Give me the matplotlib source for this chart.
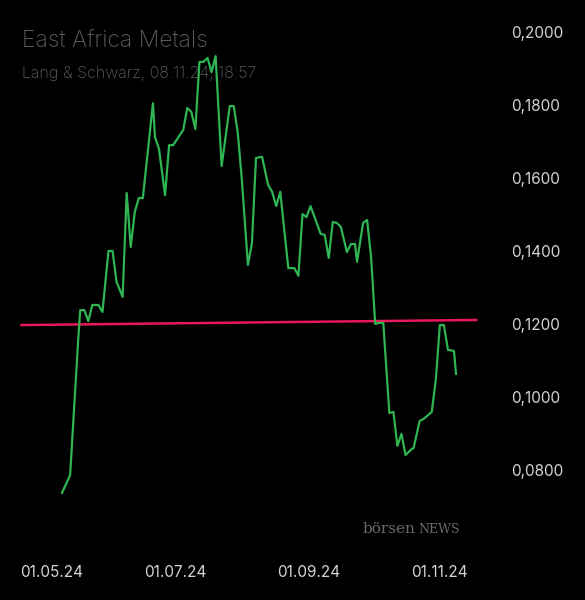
import matplotlib.pyplot as plt

plt.rcParams['font.family'] = ['Inter', 'DejaVu Sans']

# days since 01.05.24 and price in EUR
days = [5, 9, 13, 14, 16, 18, 20, 23, 25, 28, 30, 32, 35, 37, 39, 41, 43, 45,
        50, 51, 53, 56, 58, 60, 65, 67, 69, 71, 73, 75, 77, 79, 81, 84, 88, 90,
        92, 94, 97, 99, 101, 104, 107, 109, 111, 113, 117, 120, 122, 124, 126,
        128, 133, 135, 137, 139, 141, 143, 146, 148, 150, 151, 154, 156, 158,
        160, 162, 164, 167, 169, 171, 173, 175, 178, 179, 182, 184, 188, 190,
        192, 194, 196, 199, 200]
prices = [0.0737, 0.0786, 0.1156, 0.1238, 0.1238, 0.1208, 0.1252, 0.1252, 0.1233,
          0.1400, 0.1400, 0.1315, 0.1274, 0.1559, 0.1411, 0.1507, 0.1545, 0.1545,
          0.1805, 0.1712, 0.1679, 0.1553, 0.1690, 0.1690, 0.1732, 0.1792, 0.1781,
          0.1734, 0.1918, 0.1918, 0.1929, 0.1890, 0.1934, 0.1633, 0.1797, 0.1797,
          0.1723, 0.1595, 0.1362, 0.1422, 0.1655, 0.1658, 0.1581, 0.1562, 0.1523,
          0.1562, 0.1353, 0.1353, 0.1332, 0.1501, 0.1493, 0.1523, 0.1447, 0.1444,
          0.1381, 0.1479, 0.1477, 0.1466, 0.1397, 0.1419, 0.1419, 0.1370, 0.1477,
          0.1485, 0.1381, 0.1200, 0.1203, 0.1203, 0.0956, 0.0959, 0.0866, 0.0899,
          0.0841, 0.0857, 0.0860, 0.0934, 0.0940, 0.0959, 0.1047, 0.1197, 0.1197,
          0.1129, 0.1126, 0.1063]

trend_days = [-15, 210]
trend_vals = [0.1197, 0.1211]

tick_days = [0, 61, 127, 192]
tick_labels = ['01.05.24', '01.07.24', '01.09.24', '01.11.24']
ytick_vals = [0.08, 0.10, 0.12, 0.14, 0.16, 0.18, 0.20]

fig = plt.figure(figsize=(5.85, 6), dpi=100, facecolor='black')

fig.text(0.038, 0.93, 'East Africa Metals', color='#5c5c65', fontsize=16.5, va='center',
         fontweight='light')
fig.text(0.038, 0.877, 'Lang & Schwarz, 08.11.24, 18:57', color='#5c5c65', fontsize=11.5,
         va='center', fontweight='light')

ax = fig.add_axes([0.0, 0.1, 0.86, 0.8667])
ax.patch.set_alpha(0)

ax.plot(trend_days, trend_vals, color='#e8185a', lw=1.8)
ax.plot(days, prices, color='#2fb552', lw=1.6)

ax.set_xlim(-25.7, 223.3)
ax.set_ylim(0.0608, 0.2033)
for s in ax.spines.values():
    s.set_visible(False)

ax.yaxis.tick_right()
ax.set_yticks(ytick_vals)
ax.set_yticklabels([f'{v:.4f}'.replace('.', ',') for v in ytick_vals])
ax.set_xticks(tick_days)
ax.set_xticklabels(tick_labels)
ax.tick_params(length=0, colors='#d4d4d4', labelsize=11)
ax.tick_params(axis='y', pad=6)
ax.tick_params(axis='x', pad=18)

fig.text(0.62, 0.118, 'börsen', color='#6a6a6a', fontsize=11, family='DejaVu Serif', va='center')
fig.text(0.715, 0.118, 'NEWS', color='#6a6a6a', fontsize=9, family='DejaVu Serif', va='center')

fig.savefig('out.png', dpi=100, facecolor='black')
